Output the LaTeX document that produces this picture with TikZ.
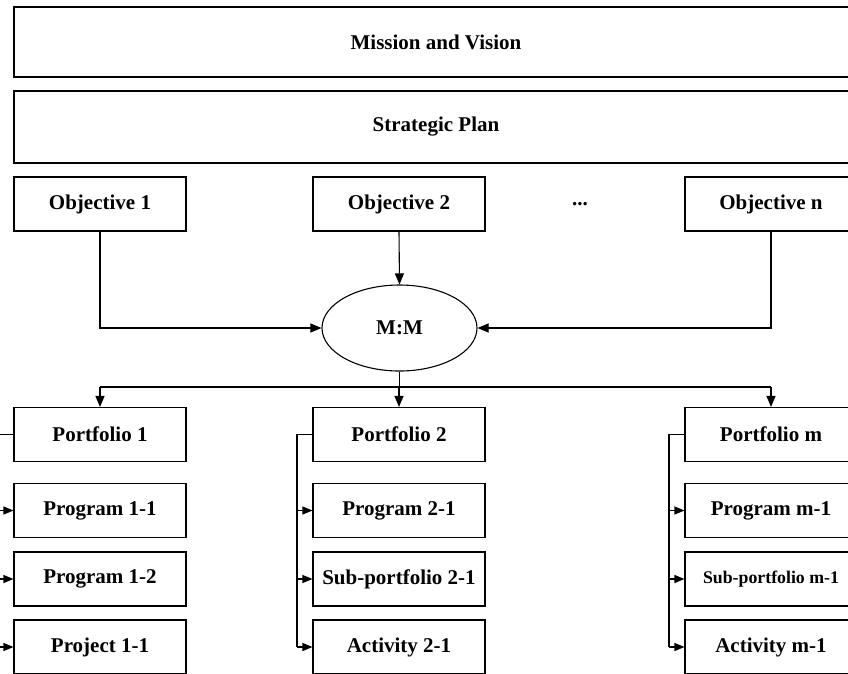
\documentclass[tikz,border=0pt]{standalone}
\usepackage{fontspec}
\setmainfont{Liberation Serif}
\usetikzlibrary{arrows.meta,shapes.geometric}
\begin{document}
\begin{tikzpicture}[x=1pt,y=-1pt,
  lbl/.style={font=\fontsize{21}{24}\selectfont\bfseries},
  box/.style={draw,line width=1.1pt,minimum width=172pt,minimum height=54pt,inner sep=0pt,lbl},
  wide/.style={box,minimum width=844pt},
  conn/.style={line width=1.1pt},
  arr/.style={line width=1.1pt,-{Triangle[length=11pt,width=9pt]}},
  sarr/.style={line width=1.1pt,-{Triangle[length=10pt,width=8pt]}}]
\useasboundingbox (0,0) rectangle (848,673);
% top
\node[wide,minimum height=70pt] (mv) at (436,42) {Mission and Vision};
\node[wide,minimum height=72pt] (sp) at (436,127) {Strategic Plan};
% objectives
\node[box] (o1) at (100,204) {Objective 1};
\node[box] (o2) at (399,204) {Objective 2};
\node[lbl] (dots) at (580,204) {...};
\node[box] (on) at (771,204) {Objective n};
% M:M
\node[draw,ellipse,line width=1.1pt,minimum width=155pt,minimum height=86pt,inner sep=0pt,lbl] (mm) at (399.5,328) {M:M};
\draw[arr] (o1.south) |- (mm.west);
\draw[arr] (o2.south) -- (mm.north);
\draw[arr] (on.south) |- (mm.east);
% portfolios
\node[box] (p1) at (100,434.5) {Portfolio 1};
\node[box] (p2) at (399,434.5) {Portfolio 2};
\node[box] (pm) at (771,434.5) {Portfolio m};
\coordinate (bus) at (399.5,387);
\draw[conn] (mm.south) -- (bus);
\draw[conn] (p1.north |- bus) -- (pm.north |- bus);
\draw[arr] (p1.north |- bus) -- (p1.north);
\draw[arr] (p2.north |- bus) -- (p2.north);
\draw[arr] (pm.north |- bus) -- (pm.north);
% column 1
\node[box] (c11) at (100,510.5) {Program 1-1};
\node[box] (c12) at (100,579) {Program 1-2};
\node[box] (c13) at (100,647) {Project 1-1};
% column 2
\node[box] (c21) at (399,510.5) {Program 2-1};
\node[box] (c22) at (399,579) {Sub-portfolio 2-1};
\node[box] (c23) at (399,647) {Activity 2-1};
% column m
\node[box] (cm1) at (771,510.5) {Program m-1};
\node[box,font=\fontsize{17.8}{20}\selectfont\bfseries] (cm2) at (771,579) {Sub-portfolio m-1};
\node[box] (cm3) at (771,647) {Activity m-1};
% buses
\coordinate (b1) at (-2,434.5);
\coordinate (b2) at (297,434.5);
\coordinate (bm) at (669,434.5);
\draw[conn] (p1.west) -- (b1) -- (b1 |- c13.west);
\draw[conn] (p2.west) -- (b2) -- (b2 |- c23.west);
\draw[conn] (pm.west) -- (bm) -- (bm |- cm3.west);
\foreach \c in {c11,c12,c13} {\draw[sarr] (b1 |- \c.west) -- (\c.west);}
\foreach \c in {c21,c22,c23} {\draw[sarr] (b2 |- \c.west) -- (\c.west);}
\foreach \c in {cm1,cm2,cm3} {\draw[sarr] (bm |- \c.west) -- (\c.west);}
\end{tikzpicture}
\end{document}
